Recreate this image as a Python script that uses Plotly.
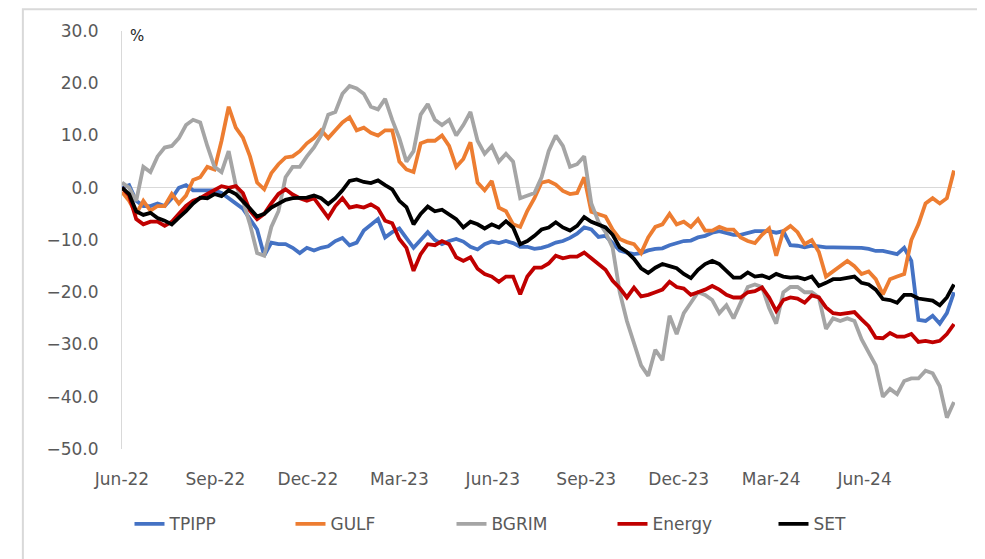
import pandas as pd
import plotly.graph_objects as go

# weekly readings, % change since start of Jun-22
TPIPP = [0, 0.5, -2.5, -3.5, -3.5, -3, -3.5, -2, 0, 0.5, -0.5, -0.5, -0.5, -0.5, -1, -2, -2.8, -4, -6, -8,
         -13, -10.5, -10.8, -10.8, -11.5, -12.5, -11.5, -12, -11.5, -11.2,
         -10.2, -9.6, -11, -10.5, -8.2, -7, -6, -9.5, -8.5, -7.8, -9.6, -11.5, -10, -8.5, -10, -10.8, -10.2, -9.8,
         -10.3, -11.3, -11.8, -10.8, -10.3, -10.6, -10.2, -10.6, -11.3, -11.3, -11.7,
         -11.5, -11.1, -10.5, -10.2, -9.6, -8.8, -7.6, -8, -9.4, -9.2, -10.6, -12, -12.4, -12.7, -12.5, -12, -11.7,
         -11.6, -11, -10.6, -10.2, -10.1, -9.5, -9.2, -8.6, -8.3, -8.6, -9, -9, -8.6,
         -8.3, -8.3, -8.3, -8.6, -8.3, -11, -11.1, -11.4, -11.1, -11.2, -11.4, -11.4, -11.4, -11.4, -11.4, -11.5,
         -11.7, -12.1, -12.1, -12.4, -12.7, -11.5, -14, -25.3, -25.5, -24.5, -26, -24, -20]
GULF = [-0.8, -2.5, -5, -2.5, -4.4, -3.5, -3.5, -1.2, -3, -1.5, 1.5, 2, 4, 3.5, 9, 15.5, 11.5, 9.6, 6, 1,
        -0.3, 2.8, 4.5, 5.8, 6, 7, 8.5, 9.5, 11, 9.5,
        11, 12.5, 13.5, 11, 11.5, 10.5, 10, 11, 11, 5, 3.5, 3, 8.5, 9, 9, 10, 8, 4, 5.5, 8.7, 1, -0.5, 1.3, -3.8,
        -4.5, -7, -7.5, -4.4, -2,
        1, 1.3, 0.6, -0.6, -1.2, -1, 2, -4.6, -5, -5.5, -8, -9.8, -10.4, -10.8, -12.5, -9.5, -7.5, -7, -5, -7,
        -6.5, -7.5, -6, -8.2, -8.2, -7.5, -8, -8, -9.5, -10.2,
        -10.6, -9, -7.8, -13, -8.3, -7.3, -8.5, -10.8, -10, -12.3, -17, -16, -15, -14, -15, -16.5, -16, -17.5,
        -20.4, -17.5, -17, -16.5, -10, -7, -3, -2, -3, -2, 3.3]
BGRIM = [1, 0, -2.5, 4, 3, 6, 7.7, 8, 9.5, 12, 13, 12.5, 8, 4, 3, 7, 0.5, -2.5, -7, -12.5, -13, -7.5, -4.5,
         2, 4, 4, 6, 7.7, 10, 14,
         14.5, 18, 19.5, 19, 18, 15.5, 15, 17, 13, 9.5, 5, 7, 14, 16, 13, 12, 13, 10, 12, 14.5, 9, 6.5, 8, 5,
         6.5, 5, -2, -1.5, -1,
         2, 7, 10, 8, 4, 4.5, 6, -3, -6.5, -8.5, -11.5, -20, -25.5, -30, -34, -36, -31, -33, -24.5, -28, -24,
         -22, -20, -20.5, -21.5, -24, -22.5, -25, -22, -19,
         -18.5, -19, -23, -26, -20, -19, -19, -20, -20, -21, -27, -25, -25.5, -25, -25.5, -29, -31.5, -34, -40,
         -38.5, -39.5, -37, -36.5, -36.5, -35, -35.5, -38, -44, -41]
ENERGY = [0, -1.5, -6, -7, -6.5, -6.5, -7.3, -6.5, -5, -3.5, -2.5, -2, -1.2, -0.5, 0.3, 0, 0.3, -1, -4.4, -6,
          -5, -3, -1.2, -0.3, -1.3, -2, -2.5, -2, -4, -5.7,
          -3.5, -2, -3.8, -3.5, -3.8, -3.2, -4, -6.3, -6.8, -9.8, -11.5, -15.9, -12.7, -10.8, -11, -10.2, -10.8,
          -13.3, -14, -13.3, -15.5, -16.5, -17, -18, -17, -17, -20.4, -17, -15.3,
          -15.3, -14.5, -13, -13.5, -13.2, -13.2, -12.4, -13.5, -14.5, -15.7, -17.8, -19.2, -21, -19.1, -20.8,
          -20.5, -20, -19.5, -18, -19, -19.3, -20.5, -20, -19.5, -18.8, -19.5, -20.5, -21, -21, -20,
          -19.8, -19.1, -21, -23.6, -21.5, -21, -21.2, -22, -20.6, -21, -22.9, -24, -24.2, -24, -23.8, -25.2,
          -26.5, -28.7, -28.8, -27.8, -28.5, -28.5, -28, -29.5, -29.3, -29.6, -29.3, -28, -26.1]
SET = [0, -1.2, -4.5, -5.2, -4.8, -5.8, -6.3, -7, -5.7, -4.5, -3, -1.9, -2, -1.2, -1.6, -0.5, -1.2, -2.5, -4,
       -5.5, -5, -3.8, -3, -2.3, -2, -1.9, -1.9, -1.5, -2, -3.1,
       -2, -0.5, 1.3, 1.6, 1.1, 0.9, 1.4, 0.5, -0.3, -2.5, -3.7, -7, -5, -3.6, -4.5, -4.2, -5, -6, -7.6, -6.5,
       -7, -7.8, -7, -7.6, -6.4, -7.6, -10.8, -10.2, -9.2,
       -8, -7.6, -6.6, -7.6, -8.2, -7.3, -5.6, -6.5, -7, -7.6, -9, -11.4, -12.3, -13.6, -15.4, -16.3, -15.3,
       -14.6, -15, -15.4, -16.5, -17.3, -15.7, -14.6, -14, -14.6, -15.9, -17.2, -17.2, -16.2,
       -17, -16.8, -17.3, -16.5, -17, -17.2, -17.1, -17.5, -17, -18.8, -18.2, -17.5, -17.5, -17.2, -17, -18.2,
       -18.5, -19.5, -21.3, -21.5, -22, -20.5, -20.5, -21.2, -21.4, -21.6, -22.5, -21, -18.5]

DATES = pd.date_range("2022-06-01", periods=len(SET), freq="7D")

TICK_DATES = ["2022-06-01", "2022-09-01", "2022-12-01", "2023-03-01", "2023-06-01",
              "2023-09-01", "2023-12-01", "2024-03-01", "2024-06-01"]
TICK_LABELS = ["Jun-22", "Sep-22", "Dec-22", "Mar-23", "Jun-23", "Sep-23", "Dec-23", "Mar-24", "Jun-24"]

series = [("TPIPP", TPIPP, "#4472C4"), ("GULF", GULF, "#ED7D31"), ("BGRIM", BGRIM, "#A5A5A5"),
          ("Energy", ENERGY, "#C00000"), ("SET", SET, "#000000")]

fig = go.Figure()
for name, vals, color in series:
    fig.add_trace(go.Scatter(x=DATES, y=vals, name=name, mode="lines",
                             line=dict(color=color, width=3.8)))

# page body adds 8px offset, margins compensate for it
font = "DejaVu Sans"
fig.update_layout(
    width=985, height=559,
    margin=dict(l=114, r=38, t=23, b=118),
    paper_bgcolor="white", plot_bgcolor="white",
    font=dict(family=font, size=17, color="#595959"),
    legend=dict(orientation="h", x=0.009, xanchor="left", y=-0.18, yanchor="middle",
                entrywidth=116, font=dict(size=17, color="#595959")),
    shapes=[dict(type="rect", xref="paper", yref="paper", x0=-0.119, x1=1.031, y0=1.052, y1=-0.35,
                 line=dict(color="#D9D9D9", width=2), layer="below")],
    annotations=[dict(text="%", xref="paper", yref="paper", x=0.018, y=0.988, showarrow=False,
                      font=dict(size=15, color="#262626"), xanchor="center", yanchor="middle")],
)
fig.update_xaxes(range=["2022-06-01", "2024-08-29"], tickvals=TICK_DATES, ticktext=TICK_LABELS,
                 showgrid=False, zeroline=False, showline=False, ticks="", ticklabelstandoff=18)
fig.update_yaxes(range=[-50, 30], tickvals=list(range(-50, 31, 10)), tickformat=".1f",
                 showgrid=False, zeroline=True, zerolinecolor="#D9D9D9", zerolinewidth=1,
                 showline=True, linecolor="#D9D9D9", linewidth=1, ticks="", ticklabelstandoff=19)

fig.write_html("out.html")
